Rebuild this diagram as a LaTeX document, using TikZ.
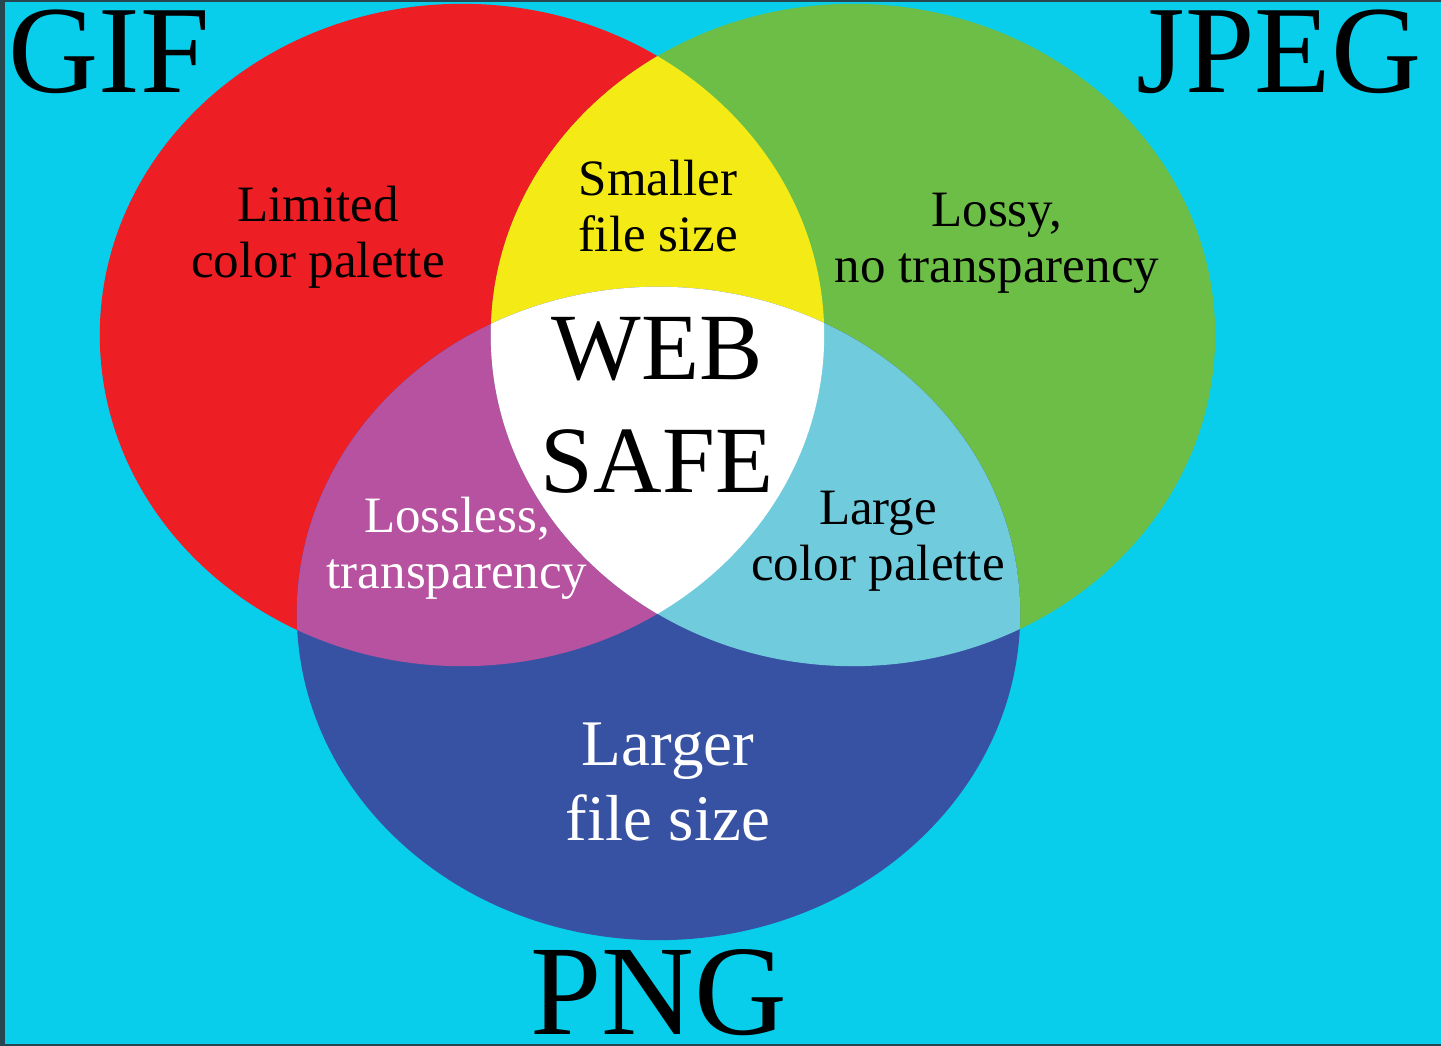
\documentclass[tikz,border=0pt]{standalone}
\usepackage{fontspec}
\setmainfont{Liberation Serif}
\usepackage{xcolor}
\definecolor{wfcyan}{RGB}{8,206,236}
\definecolor{wfframe}{RGB}{38,70,82}
\definecolor{wfred}{RGB}{237,30,36}
\definecolor{wfgreen}{RGB}{108,190,70}
\definecolor{wfyellow}{RGB}{244,234,22}
\definecolor{wfpurple}{RGB}{182,82,160}
\definecolor{wflight}{RGB}{112,203,220}
\definecolor{wfblue}{RGB}{56,82,163}
\usetikzlibrary{positioning}

\begin{document}
\begin{tikzpicture}[x=0.01cm, y=-0.01cm,
    topoval/.style={x radius=3.62cm, y radius=3.31cm},
    lowoval/.style={x radius=3.615cm, y radius=3.265cm},
    biglbl/.style={font=\fontsize{35.5}{38}\selectfont, anchor=base, inner sep=0pt},
    lbl/.style={font=\fontsize{14.5}{16}\selectfont, align=center}]
  % --- Background ---
  \fill[wfframe] (0,0) rectangle (1441,1046);
  \fill[wfcyan] (5,2) rectangle (1441,1044);
  \useasboundingbox (0,0) rectangle (1441,1046);

  % Oval centres
  \coordinate (gifc) at (462,335);
  \coordinate (jpgc) at (853,335);
  \coordinate (pngc) at (658.5,613.5);

  % --- Ovals ---
  \fill[wfred] (gifc) ellipse [topoval];
  \fill[wfgreen] (jpgc) ellipse [topoval];
  \fill[wfblue] (pngc) ellipse [lowoval];

  % --- Overlaps ---
  \begin{scope}
    \clip (gifc) ellipse [topoval];
    \fill[wfyellow] (jpgc) ellipse [topoval];
    \fill[wfpurple] (pngc) ellipse [lowoval];
  \end{scope}
  \begin{scope}
    \clip (jpgc) ellipse [topoval];
    \fill[wflight] (pngc) ellipse [lowoval];
    \clip (gifc) ellipse [topoval];
    \fill[white] (pngc) ellipse [lowoval];
  \end{scope}

  % --- Format names ---
  \node[biglbl] (gif) at (109,93) {GIF};
  \node[biglbl] (jpeg) at (1279,93) {JPEG};
  \node[biglbl, font=\fontsize{36.5}{38}\selectfont] (png) at (659,1035) {PNG};

  % --- Region labels ---
  \node[lbl] (limited) at (318,237) {Limited\\color palette};
  \node[lbl] (smaller) at (658,206) {Smaller\\file size};
  \node[lbl] (lossy) at (997,243) {Lossy,\\no transparency};
  \node[lbl, white] (lossless) at (457,548) {Lossless,\\transparency};
  \node[lbl] (large) at (878,541) {Large\\color palette};
  \node[lbl, white, font=\fontsize{18.5}{21.3}\selectfont] (larger) at (668,782) {Larger\\file size};
  \node[lbl, font=\fontsize{27}{32.1}\selectfont] (websafe) at (657,405) {WEB\\SAFE};
\end{tikzpicture}
\end{document}
